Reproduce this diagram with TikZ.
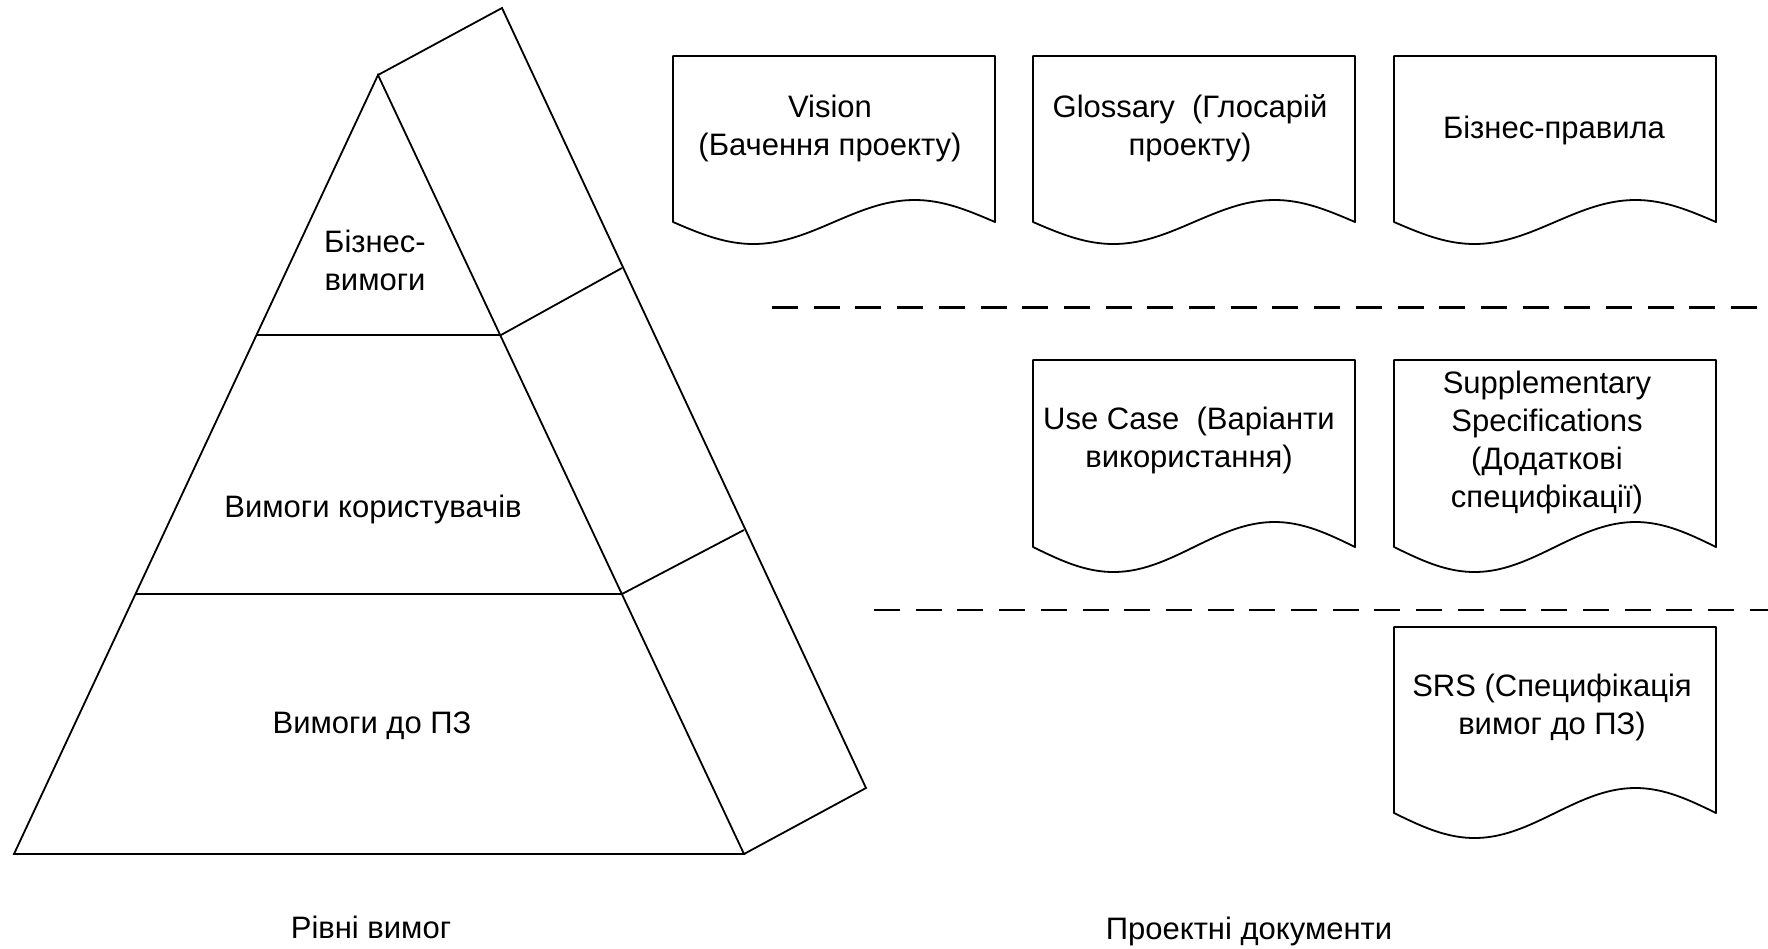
\documentclass[tikz,border=0pt]{standalone}
\usepackage{fontspec}
\setmainfont{Liberation Sans}

% centred multi-line text whose reference point is the first baseline
\newcommand{\textlines}[1]{\begin{tabular}[t]{@{}c@{}}#1\end{tabular}}

% document sheet with a wavy lower edge: #1 left x, #2 top y, #3 corner y, #4 wave depth
\newcommand{\drawdocument}[4]{%
  \draw[sheetline] (#1,#3) -- (#1,#2) -- (#1+322,#2) -- (#1+322,#3)
    -- plot[domain=0:1, samples=60, smooth]
       ({#1+322*(1-\x)},{#3-#4*sin(360*\x)}) -- cycle;
}

\tikzset{
  shapeline/.style={draw=black, line width=1.8pt, line join=miter},
  sheetline/.style={draw=black, line width=1.8pt, line join=round},
  separator/.style={draw=black, line width=2.1pt, dash pattern=on 26pt off 15.7pt},
  txt/.style={font=\fontsize{31}{38}\selectfont, inner sep=0pt, anchor=base},
}

\begin{document}
\begin{tikzpicture}[x=1pt, y=-1pt]
  \useasboundingbox (0,0) rectangle (1768,948);

  % ---- pyramid of requirement levels ----
  \coordinate (apex) at (378,75);
  \coordinate (bl)   at (14,854);
  \coordinate (br)   at (744,854);
  \coordinate (l1l)  at (257,335);
  \coordinate (l1r)  at (501,335);
  \coordinate (l2l)  at (136,594);
  \coordinate (l2r)  at (622,594);
  \coordinate (bktop) at (502,8);
  \coordinate (bk1)   at (622,268);
  \coordinate (bk2)   at (744,530);
  \coordinate (bkbot) at (866,788);

  \draw[shapeline] (apex) -- (bl) -- (br) -- cycle;
  \draw[shapeline] (l1l) -- (l1r);
  \draw[shapeline] (l2l) -- (l2r);
  \draw[shapeline] (apex) -- (bktop) -- (bkbot) -- (br);
  \draw[shapeline] (l1r) -- (bk1);
  \draw[shapeline] (l2r) -- (bk2);

  \node[txt] (lvlbiz)  at (375,252.5) {\textlines{Бізнес-\\вимоги}};
  \node[txt] (lvluser) at (373,517)   {Вимоги користувачів};
  \node[txt] (lvlsw)   at (372,733)   {Вимоги до ПЗ};

  % ---- project documents ----
  \drawdocument{673}{56}{222}{22}
  \drawdocument{1033}{56}{222}{22}
  \drawdocument{1394}{56}{222}{22}
  \drawdocument{1033}{360}{547}{25}
  \drawdocument{1394}{360}{547}{25}
  \drawdocument{1394}{627}{813}{25}

  \node[txt] (vision)   at (830,117.5) {\textlines{Vision\\(Бачення проекту)}};
  \node[txt] (glossary) at (1190,117)  {\textlines{Glossary\ \ (Глосарій\\проекту)}};
  \node[txt] (rules)    at (1554,138)  {Бізнес-правила};
  \node[txt] (usecase)  at (1189,429)  {\textlines{Use Case\ \ (Варіанти\\використання)}};
  \node[txt] (suppl)    at (1547,393)  {\textlines{Supplementary\\Specifications\\(Додаткові\\специфікації)}};
  \node[txt] (srs)      at (1552,696)  {\textlines{SRS (Специфікація\\вимог до ПЗ)}};

  % ---- separators between document groups ----
  \coordinate (sepa) at (772,307.5);
  \coordinate (sepb) at (1768,307.5);
  \coordinate (sepc) at (874,610);
  \coordinate (sepd) at (1768,610);
  \draw[separator] (sepa) -- (sepb);
  \draw[separator] (sepc) -- (sepd);

  % ---- captions ----
  \node[txt] (caplevels) at (371,938)  {Рівні вимог};
  \node[txt] (capdocs)   at (1249,939) {Проектні документи};
\end{tikzpicture}
\end{document}
